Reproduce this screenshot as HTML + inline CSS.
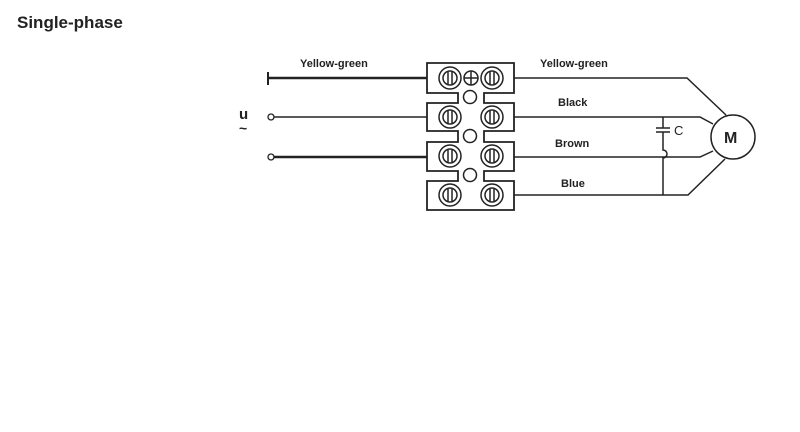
<!DOCTYPE html>
<html><head><style>
body{margin:0;background:#fff;width:800px;height:432px;overflow:hidden}
svg{position:absolute;left:0;top:0}
text{font-family:"Liberation Sans",sans-serif;fill:#222}
</style></head><body>
<svg width="800" height="432" viewBox="0 0 800 432">
<defs>
<g id="s"><circle r="11"/><circle r="7"/><line x1="-2" y1="-6" x2="-2" y2="6"/><line x1="2" y1="-6" x2="2" y2="6"/></g>
</defs>
<text x="17" y="28" font-size="17" font-weight="bold">Single-phase</text>
<g font-size="11" font-weight="bold">
<text x="300" y="67">Yellow-green</text>
<text x="540" y="67">Yellow-green</text>
<text x="558" y="106">Black</text>
<text x="555" y="147">Brown</text>
<text x="561" y="187">Blue</text>
</g>
<text x="239" y="119" font-size="15" font-weight="bold">u</text>
<text x="239" y="133" font-size="14" font-weight="bold">~</text>
<text x="674" y="135" font-size="13">C</text>
<g stroke="#222" fill="none" stroke-width="1.5">
<line x1="268" y1="78" x2="427" y2="78" stroke-width="2.5"/>
<line x1="268" y1="72" x2="268" y2="85" stroke-width="2"/>
<circle cx="271" cy="117" r="3" stroke-width="1.3"/>
<line x1="274" y1="117" x2="427" y2="117"/>
<circle cx="271" cy="157" r="3" stroke-width="1.3"/>
<line x1="274" y1="157" x2="427" y2="157" stroke-width="2.5"/>
<path d="M514 78 H687 L726 115"/>
<path d="M514 117 H700 L713 124"/>
<path d="M514 157 H700 L713 151"/>
<path d="M514 195 H688 L725 159"/>
<path d="M663 117 V128 M656 128 H670 M656 132 H670 M663 132 V150 A4 4 0 0 1 663 158 V195"/>
<circle cx="733" cy="137" r="22"/>
<path d="M427 63 H514 V93 H484 V103 H514 V131 H484 V142 H514 V171 H484 V181 H514 V210 H427 V181 H458 V171 H427 V142 H458 V131 H427 V103 H458 V93 H427 Z" stroke-width="1.8"/>
<circle cx="470" cy="97" r="6.5"/>
<circle cx="470" cy="136" r="6.5"/>
<circle cx="470" cy="175" r="6.5"/>
</g>
<text x="724" y="143" font-size="16" font-weight="bold">M</text>
<g stroke="#222" fill="none" stroke-width="1.5">
<use href="#s" x="450" y="78"/><use href="#s" x="492" y="78"/>
<use href="#s" x="450" y="117"/><use href="#s" x="492" y="117"/>
<use href="#s" x="450" y="156"/><use href="#s" x="492" y="156"/>
<use href="#s" x="450" y="195"/><use href="#s" x="492" y="195"/>
<circle cx="471" cy="78" r="7"/><line x1="464" y1="78" x2="478" y2="78"/><line x1="471" y1="71" x2="471" y2="85"/>
</g>
</svg>
</body></html>
